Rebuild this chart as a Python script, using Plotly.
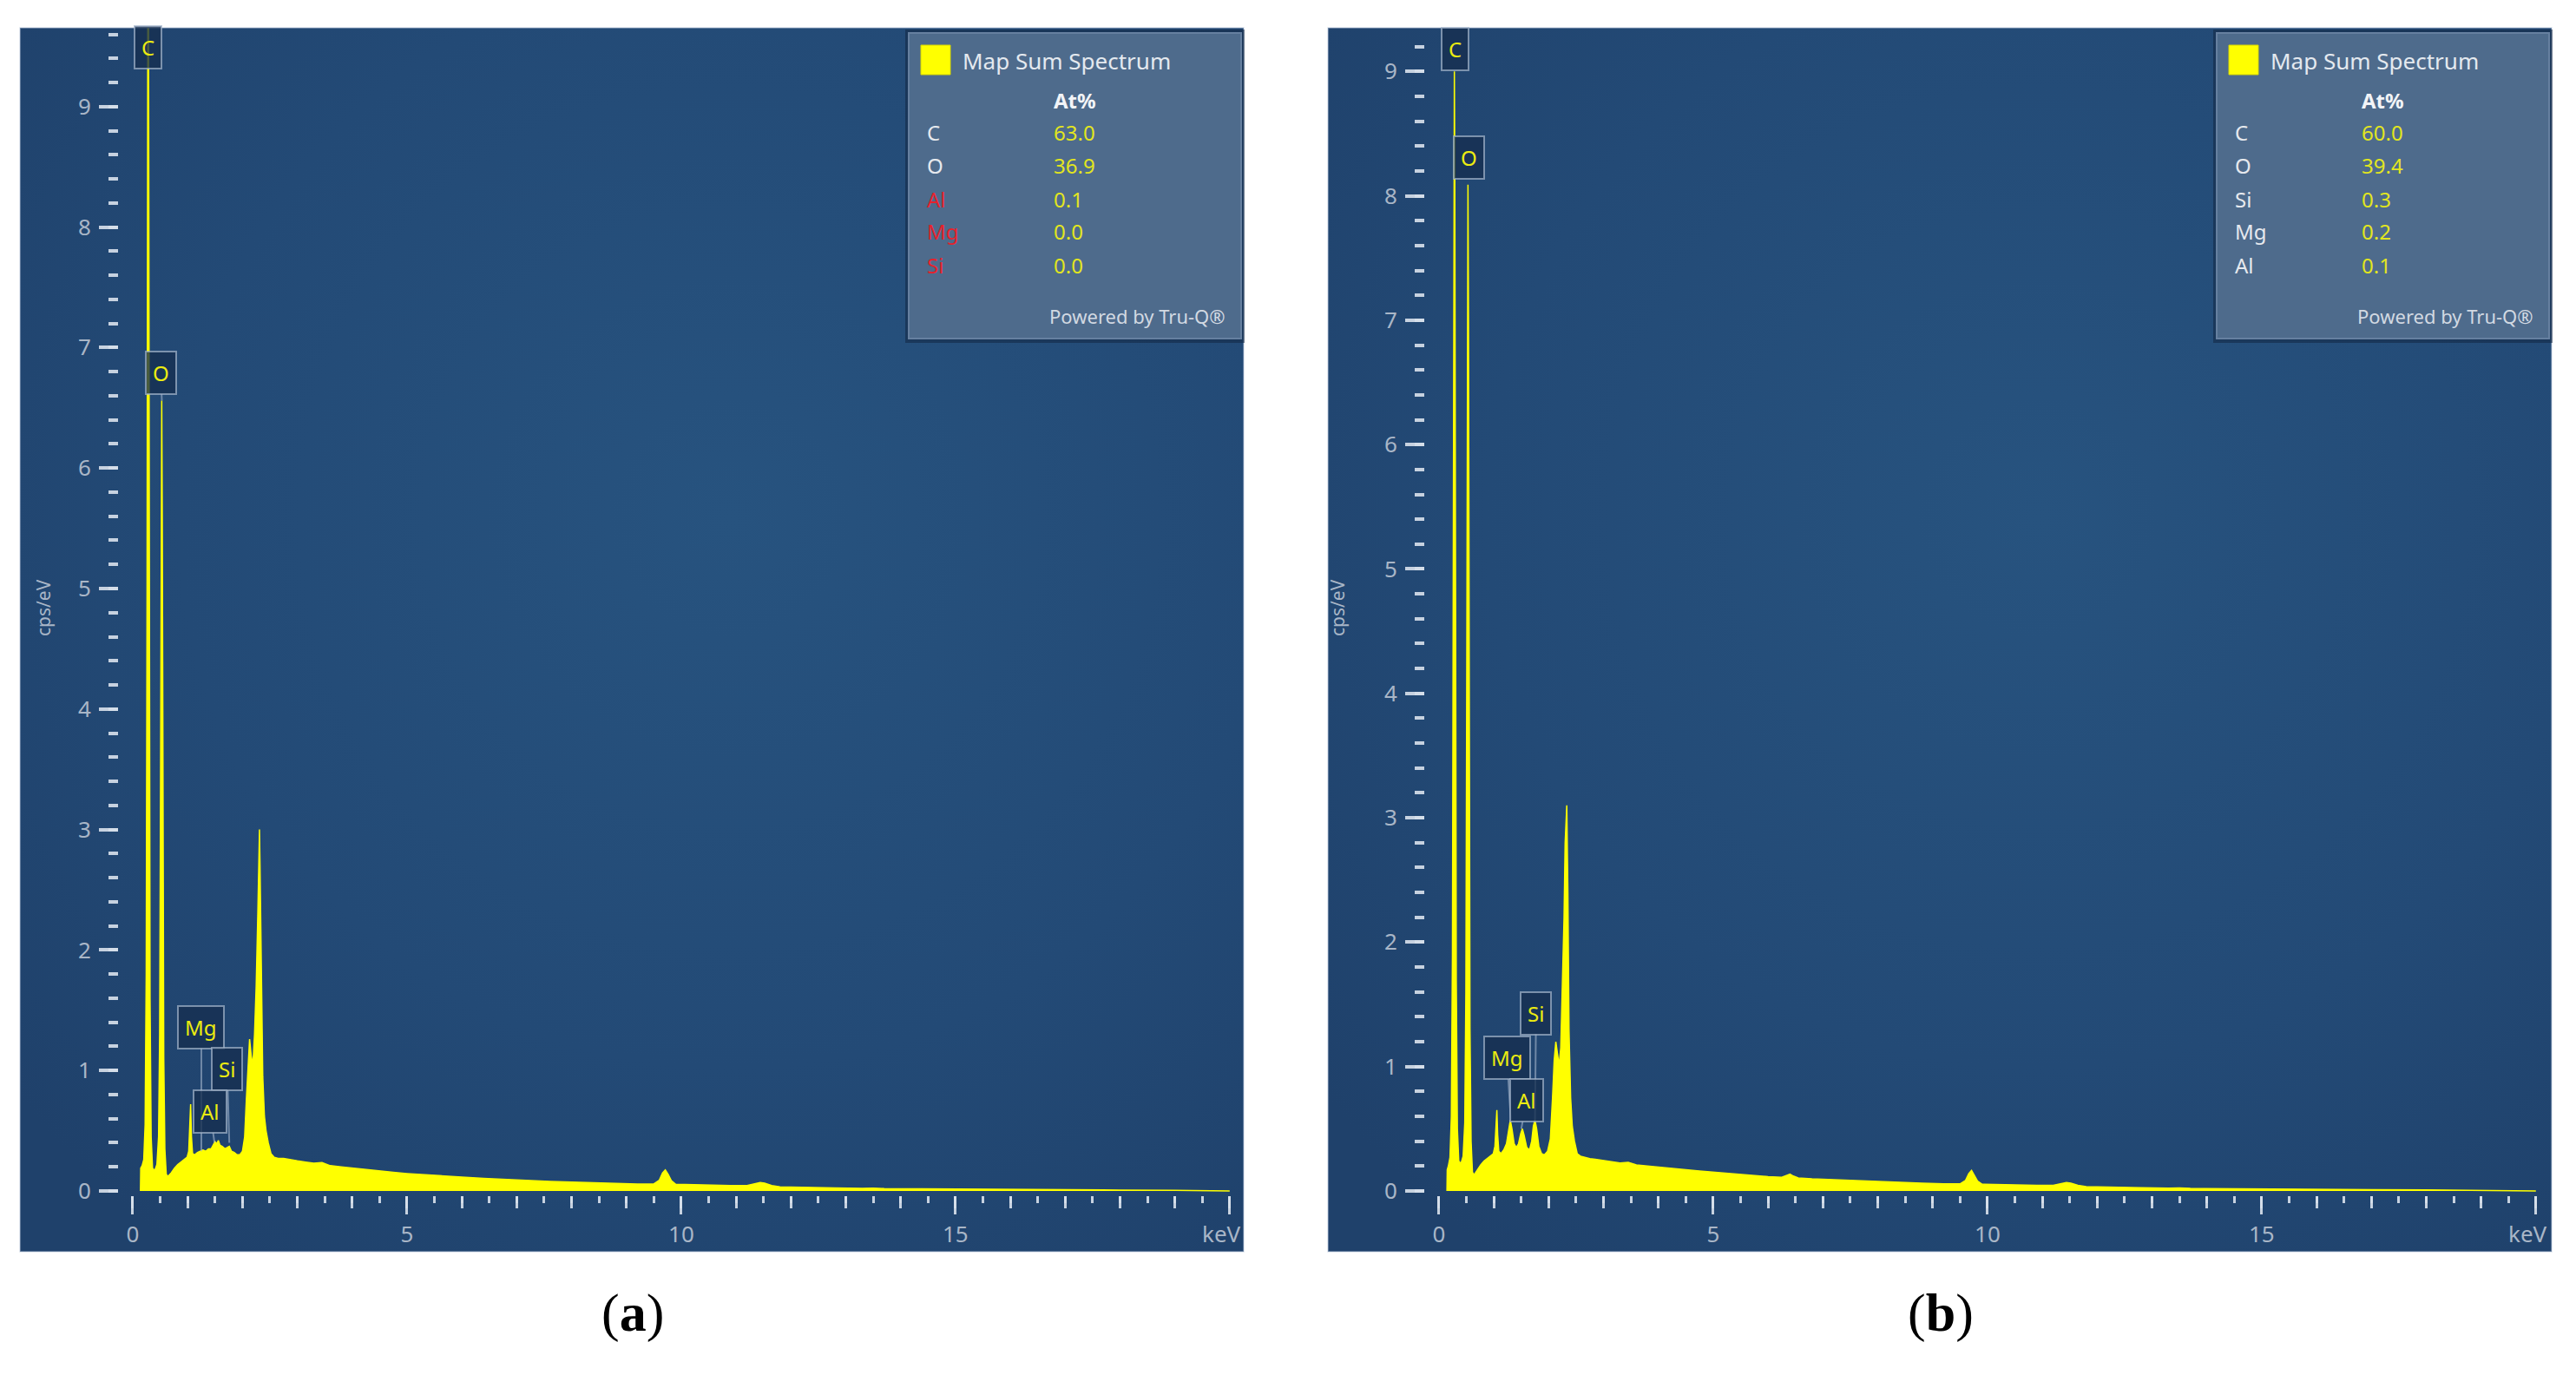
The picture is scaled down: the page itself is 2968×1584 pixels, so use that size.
import base64
import plotly.graph_objects as go

# page is 2968 x 1584; the html body keeps its default 8px margin,
# so the figure itself is 16px smaller and every page coordinate is shifted by 8px
PAGE_W, PAGE_H = 2968, 1584
BODY = 8
W, H = PAGE_W - 2 * BODY, PAGE_H - 2 * BODY

# ---------------- data ----------------
energy_a = [0.14, 0.145, 0.17, 0.20, 0.225, 0.245, 0.26, 0.272, 0.28, 0.288,
            0.30, 0.315, 0.335, 0.36, 0.40, 0.44, 0.47, 0.49, 0.505, 0.518,
            0.528, 0.538, 0.55, 0.565, 0.585, 0.61, 0.64, 0.70, 0.76, 0.82,
            0.88, 0.94, 0.99, 1.02, 1.04, 1.055, 1.07, 1.09, 1.13, 1.18,
            1.23, 1.28, 1.33, 1.38, 1.43, 1.47, 1.50, 1.53, 1.56, 1.59,
            1.63, 1.68, 1.72, 1.76, 1.80, 1.85, 1.90, 1.95, 2.00, 2.04,
            2.07, 2.10, 2.13, 2.16, 2.19, 2.22, 2.25, 2.28, 2.30, 2.31,
            2.32, 2.34, 2.37, 2.40, 2.43, 2.47, 2.52, 2.58, 2.65, 2.75,
            2.85, 3.0, 3.15, 3.3, 3.45, 3.6, 3.8, 4.0, 4.25, 4.5,
            4.75, 5.0, 5.3, 5.6, 6.0, 6.4, 6.8, 7.2, 7.6, 8.0,
            8.4, 8.8, 9.2, 9.5, 9.6, 9.66, 9.71, 9.76, 9.82, 9.9,
            10.1, 10.5, 10.9, 11.2, 11.35, 11.44, 11.52, 11.65, 11.8, 12.2,
            12.8, 13.3, 13.5, 13.7, 14.2, 15.0, 16.0, 17.0, 18.0, 19.0,
            19.6, 20.0]
cps_a = [0.00, 0.19, 0.21, 0.26, 0.55, 1.8, 5.0, 9.5, 12.0, 9.5,
         5.0, 1.6, 0.45, 0.19, 0.17, 0.22, 0.45, 1.3, 3.2, 5.6,
         6.56, 5.6, 3.0, 1.1, 0.35, 0.14, 0.12, 0.15, 0.19, 0.22,
         0.24, 0.26, 0.28, 0.33, 0.55, 0.72, 0.45, 0.31, 0.30, 0.32,
         0.33, 0.34, 0.33, 0.35, 0.35, 0.38, 0.41, 0.39, 0.42, 0.38,
         0.37, 0.35, 0.36, 0.37, 0.33, 0.32, 0.30, 0.30, 0.33, 0.45,
         0.75, 1.05, 1.26, 1.12, 1.05, 1.30, 1.7, 2.3, 2.95, 3.0,
         2.7, 1.8, 0.95, 0.62, 0.50, 0.40, 0.31, 0.28, 0.27, 0.27,
         0.26, 0.25, 0.24, 0.23, 0.235, 0.21, 0.20, 0.19, 0.175, 0.165,
         0.155, 0.145, 0.135, 0.125, 0.115, 0.105, 0.095, 0.088, 0.080, 0.073,
         0.067, 0.062, 0.058, 0.058, 0.09, 0.15, 0.175, 0.14, 0.085, 0.055,
         0.052, 0.048, 0.045, 0.045, 0.06, 0.07, 0.065, 0.045, 0.035, 0.03,
         0.026, 0.022, 0.024, 0.02, 0.018, 0.015, 0.012, 0.01, 0.008, 0.005,
         0.003, 0.0]

energy_b = [0.145, 0.15, 0.17, 0.20, 0.225, 0.245, 0.26, 0.272, 0.28, 0.288,
            0.30, 0.315, 0.335, 0.36, 0.40, 0.44, 0.47, 0.49, 0.505, 0.518,
            0.528, 0.538, 0.55, 0.565, 0.585, 0.61, 0.64, 0.70, 0.76, 0.82,
            0.88, 0.94, 0.99, 1.02, 1.04, 1.055, 1.07, 1.09, 1.13, 1.18,
            1.23, 1.27, 1.30, 1.33, 1.37, 1.41, 1.45, 1.49, 1.52, 1.55,
            1.60, 1.65, 1.69, 1.72, 1.75, 1.78, 1.82, 1.87, 1.92, 1.98,
            2.03, 2.07, 2.10, 2.13, 2.16, 2.19, 2.22, 2.25, 2.28, 2.30,
            2.32, 2.33, 2.35, 2.37, 2.40, 2.43, 2.47, 2.52, 2.58, 2.65,
            2.75, 2.85, 3.0, 3.15, 3.3, 3.45, 3.6, 3.8, 4.0, 4.25,
            4.5, 4.75, 5.0, 5.3, 5.6, 6.0, 6.25, 6.35, 6.40, 6.46,
            6.55, 6.8, 7.2, 7.6, 8.0, 8.4, 8.8, 9.2, 9.5, 9.6,
            9.66, 9.71, 9.76, 9.82, 9.9, 10.1, 10.5, 10.9, 11.2, 11.35,
            11.44, 11.52, 11.65, 11.8, 12.2, 12.8, 13.3, 13.5, 13.7, 14.2,
            15.0, 16.0, 17.0, 18.0, 19.0, 19.6, 20.0]
cps_b = [0.00, 0.17, 0.20, 0.27, 0.6, 1.9, 5.0, 8.2, 9.0, 8.2,
         5.0, 1.7, 0.5, 0.24, 0.22, 0.28, 0.55, 1.6, 4.0, 7.0,
         8.09, 7.0, 3.7, 1.3, 0.4, 0.15, 0.13, 0.17, 0.21, 0.24,
         0.26, 0.28, 0.30, 0.36, 0.55, 0.65, 0.45, 0.32, 0.30, 0.33,
         0.38, 0.50, 0.57, 0.50, 0.38, 0.35, 0.38, 0.46, 0.50, 0.45,
         0.35, 0.33, 0.40, 0.52, 0.57, 0.50, 0.36, 0.30, 0.29, 0.32,
         0.42, 0.75, 1.05, 1.20, 1.10, 1.01, 1.15, 1.6, 2.2, 2.8,
         3.05, 3.1, 2.4, 1.3, 0.75, 0.52, 0.40, 0.30, 0.28, 0.27,
         0.26, 0.255, 0.245, 0.235, 0.225, 0.23, 0.21, 0.20, 0.19, 0.18,
         0.17, 0.16, 0.15, 0.14, 0.13, 0.115, 0.11, 0.125, 0.135, 0.12,
         0.105, 0.098, 0.09, 0.082, 0.075, 0.068, 0.063, 0.058, 0.057, 0.085,
         0.14, 0.165, 0.13, 0.08, 0.055, 0.052, 0.048, 0.045, 0.045, 0.058,
         0.068, 0.062, 0.045, 0.035, 0.03, 0.026, 0.022, 0.024, 0.02, 0.018,
         0.015, 0.012, 0.01, 0.008, 0.005, 0.003, 0.0]

x_tick_vals = [0, 5, 10, 15, 20]
x_tick_text = ["0", "5", "10", "15", ""]
x_unit = "keV"
x_unit_pos = 19.85
y_tick_vals = [0, 1, 2, 3, 4, 5, 6, 7, 8, 9]
y_title = "cps/eV"

# peak markers: element, peak energy / height, label box centre (data units)
mark_el_a = ["C", "O", "Mg", "Si", "Al"]
mark_tip_e_a = [0.28, 0.53, 1.25, 1.76, 1.49]
mark_tip_y_a = [9.49, 6.56, 0.33, 0.40, 0.40]
mark_box_e_a = [0.28, 0.51, 1.25, 1.72, 1.41]
mark_box_y_a = [9.49, 6.79, 1.36, 1.01, 0.66]

mark_el_b = ["C", "O", "Mg", "Si", "Al"]
mark_tip_e_b = [0.30, 0.54, 1.31, 1.75, 1.50]
mark_tip_y_b = [9.18, 8.31, 0.57, 0.57, 0.50]
mark_box_e_b = [0.30, 0.54, 1.24, 1.77, 1.60]
mark_box_y_b = [9.18, 8.31, 1.07, 1.43, 0.73]

# quantification table
quant_el_a = ["C", "O", "Al", "Mg", "Si"]
quant_at_a = ["63.0", "36.9", "0.1", "0.0", "0.0"]
flagged_a = ["Al", "Mg", "Si"]
quant_el_b = ["C", "O", "Si", "Mg", "Al"]
quant_at_b = ["60.0", "39.4", "0.3", "0.2", "0.1"]
flagged_b = []

captions = ["(<b>a</b>)", "(<b>b</b>)"]


# ---------------- styling ----------------
def PX(x):
    return (x - BODY) / W


def PY(y):
    return 1 - (y - BODY) / H


YELLOW = "#ffff00"
TICK_C = "rgba(214,222,233,0.92)"
LABEL_C = "#a9b6c7"
FONT = "Noto Sans"

svg = ('<svg xmlns="http://www.w3.org/2000/svg" width="400" height="400">'
       '<defs><radialGradient id="g" cx="0.58" cy="0.40" r="0.75">'
       '<stop offset="0" stop-color="#27537f"/>'
       '<stop offset="0.6" stop-color="#234a76"/>'
       '<stop offset="1" stop-color="#1f416b"/>'
       '</radialGradient></defs>'
       '<rect width="400" height="400" fill="url(#g)"/></svg>')
bg_src = "data:image/svg+xml;base64," + base64.b64encode(svg.encode()).decode()

panels = [
    dict(off=0, xa="x", ya="y", xov="x3", energy=energy_a, cps=cps_a,
         yr=[-0.036, 9.654], marks=(mark_el_a, mark_tip_e_a, mark_tip_y_a, mark_box_e_a, mark_box_y_a),
         q=(quant_el_a, quant_at_a, flagged_a), cap=captions[0]),
    dict(off=1507, xa="x2", ya="y2", xov="x4", energy=energy_b, cps=cps_b,
         yr=[-0.035, 9.351], marks=(mark_el_b, mark_tip_e_b, mark_tip_y_b, mark_box_e_b, mark_box_y_b),
         q=(quant_el_b, quant_at_b, flagged_b), cap=captions[1]),
]

fig = go.Figure()
shapes, annotations, images = [], [], []
layout_axes = {}

XR = [-0.253, 20.13]

for i, p in enumerate(panels):
    off = p["off"]
    fig.add_trace(go.Scatter(
        x=p["energy"], y=p["cps"], mode="lines",
        line=dict(color=YELLOW, width=1.5), fill="tozeroy", fillcolor=YELLOW,
        xaxis=p["xa"], yaxis=p["ya"], showlegend=False, hoverinfo="skip"))
    fig.add_trace(go.Scatter(x=[None], y=[None], xaxis=p["xov"], yaxis=p["ya"],
                             showlegend=False, hoverinfo="skip"))

    xkey = "xaxis" if p["xa"] == "x" else "xaxis2"
    ykey = "yaxis" if p["ya"] == "y" else "yaxis2"
    okey = "xaxis3" if p["xov"] == "x3" else "xaxis4"
    shift = 2 if off else 0
    dom_x = [PX(137 + off - shift), PX(1425 + off - shift)]
    tickfont = dict(family=FONT, size=26, color=LABEL_C)
    layout_axes[xkey] = dict(
        domain=dom_x, range=XR, anchor=p["ya"], automargin=False, showgrid=False,
        zeroline=False, showline=False, tickmode="array", tickvals=x_tick_vals,
        ticktext=x_tick_text, ticks="outside", ticklen=21, tickwidth=3, tickcolor=TICK_C,
        tickfont=tickfont, ticklabelstandoff=1,
        minor=dict(ticks="outside", tick0=0, dtick=0.5, ticklen=8, tickwidth=3,
                   tickcolor=TICK_C, showgrid=False))
    layout_axes[okey] = dict(
        overlaying=p["xa"], anchor=p["ya"], range=XR, automargin=False, showgrid=False,
        zeroline=False, showline=False, tick0=0, dtick=1, ticks="outside", ticklen=14,
        tickwidth=3, tickcolor=TICK_C, showticklabels=False)
    layout_axes[ykey] = dict(
        domain=[PY(1377), PY(32)], range=p["yr"], anchor=p["xa"], automargin=False,
        showgrid=False, zeroline=False, showline=False, tickmode="array",
        tickvals=y_tick_vals, ticks="outside", ticklen=22, tickwidth=4, tickcolor=TICK_C,
        tickfont=tickfont, ticklabelstandoff=4,
        minor=dict(ticks="outside", tick0=0, dtick=0.2, ticklen=11, tickwidth=4,
                   tickcolor=TICK_C, showgrid=False))

    # unit label at the end of the energy axis
    annotations.append(dict(xref=p["xa"], yref="paper", x=x_unit_pos, y=PY(1421),
                            text=x_unit, showarrow=False, xanchor="center", yanchor="middle",
                            font=tickfont))

    # panel background (radial gradient) + thin border
    images.append(dict(source=bg_src, xref="paper", yref="paper",
                       x=PX(23 + off), y=PY(32), sizex=1410 / W, sizey=1410 / H,
                       xanchor="left", yanchor="top", sizing="stretch", layer="below"))
    shapes.append(dict(type="rect", xref="paper", yref="paper",
                       x0=PX(23 + off), x1=PX(1433 + off), y0=PY(1442), y1=PY(32),
                       line=dict(color="rgba(190,203,220,0.55)", width=1.5), layer="above"))

    # y-axis title
    annotations.append(dict(xref="paper", yref="paper", x=PX(34 + off), y=PY(700),
                            text=y_title, textangle=-90, showarrow=False,
                            font=dict(family=FONT, size=21, color=LABEL_C)))

    # peak markers
    els, te, ty, be, by = p["marks"]
    for el, tx_, ty_, bx_, byy in zip(els, te, ty, be, by):
        arrow = not (tx_ == bx_ and ty_ == byy)
        a = dict(xref=p["xa"], yref=p["ya"], x=tx_, y=ty_, text=el,
                 font=dict(family=FONT, size=24, color="#ecec10"),
                 bgcolor="rgba(22,46,80,0.78)", bordercolor="rgba(165,182,204,0.7)",
                 borderwidth=2, borderpad=7)
        if arrow:
            a.update(showarrow=True, axref=p["xa"], ayref=p["ya"], ax=bx_, ay=byy,
                     arrowhead=0, arrowwidth=2, arrowcolor="rgba(165,182,204,0.6)",
                     standoff=0, startstandoff=0)
        else:
            a.update(showarrow=False)
        annotations.append(a)

    # quantification box
    shapes.append(dict(type="rect", xref="paper", yref="paper",
                       x0=PX(1043 + off), x1=PX(1434 + off), y0=PY(395), y1=PY(34),
                       fillcolor="rgba(18,38,66,0.55)", line=dict(width=0), layer="above"))
    shapes.append(dict(type="rect", xref="paper", yref="paper",
                       x0=PX(1047 + off), x1=PX(1430 + off), y0=PY(390), y1=PY(38),
                       fillcolor="#4e6b8c", line=dict(color="#6680a0", width=2), layer="above"))
    shapes.append(dict(type="rect", xref="paper", yref="paper",
                       x0=PX(1061 + off), x1=PX(1095 + off), y0=PY(86), y1=PY(52),
                       fillcolor=YELLOW, line=dict(color="#d8d800", width=1), layer="above"))
    annotations.append(dict(xref="paper", yref="paper", x=PX(1107 + off), y=PY(70),
                            text="Map Sum Spectrum", showarrow=False, xanchor="left",
                            yanchor="middle", font=dict(family=FONT, size=26, color="#e4e9ef")))
    annotations.append(dict(xref="paper", yref="paper", x=PX(1212 + off), y=PY(116),
                            text="<b>At%</b>", showarrow=False, xanchor="left",
                            yanchor="middle", font=dict(family=FONT, size=24, color="#f2f4f7")))
    q_el, q_at, flagged = p["q"]
    rows_y = [152, 190, 229, 267, 305]
    for el, at, ry in zip(q_el, q_at, rows_y):
        col = "#e6222c" if el in flagged else "#e6e9ee"
        annotations.append(dict(xref="paper", yref="paper", x=PX(1066 + off), y=PY(ry),
                                text=el, showarrow=False, xanchor="left", yanchor="middle",
                                font=dict(family=FONT, size=24, color=col)))
        annotations.append(dict(xref="paper", yref="paper", x=PX(1212 + off), y=PY(ry),
                                text=at, showarrow=False, xanchor="left", yanchor="middle",
                                font=dict(family=FONT, size=24, color="#e2e61e")))
    annotations.append(dict(xref="paper", yref="paper", x=PX(1414 + off), y=PY(364),
                            text="Powered by Tru-Q®", showarrow=False, xanchor="right",
                            yanchor="middle", font=dict(family=FONT, size=22, color="#d2d9e2")))

    # caption
    annotations.append(dict(xref="paper", yref="paper", x=PX(729 + off), y=PY(1512),
                            text=p["cap"], showarrow=False, xanchor="center", yanchor="middle",
                            font=dict(family="Liberation Serif", size=62, color="#000000")))

fig.update_layout(
    width=W, height=H, margin=dict(l=0, r=0, t=0, b=0, pad=0, autoexpand=False),
    paper_bgcolor="#ffffff", plot_bgcolor="rgba(0,0,0,0)",
    shapes=shapes, annotations=annotations, images=images, showlegend=False,
    **layout_axes)

fig.write_html("out.html", config={"displayModeBar": False})
